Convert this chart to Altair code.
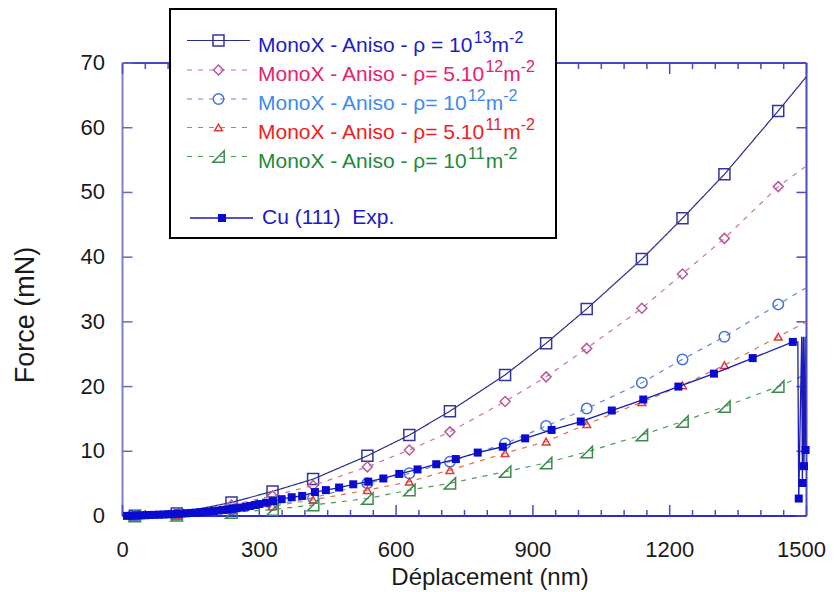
import altair as alt
import pandas as pd

# ---------------- data ----------------
# simulation curves (MonoX - Aniso), markers at all x except the first and last
x_sim = [0, 27, 119, 239, 329, 418, 537, 629, 718, 839, 929, 1018, 1139, 1228, 1320, 1438, 1500]
f_1e13 = [0, 0.05, 0.4, 2.1, 3.8, 5.7, 9.3, 12.5, 16.2, 21.8, 26.7, 32.0, 39.7, 46.0, 52.8, 62.6, 67.9]
f_5e12 = [0, 0.04, 0.3, 1.7, 3.1, 4.7, 7.6, 10.2, 13.0, 17.7, 21.5, 25.9, 32.1, 37.4, 42.9, 50.9, 54.1]
f_1e12 = [0, 0.03, 0.25, 1.0, 1.7, 2.8, 5.05, 6.6, 8.4, 11.2, 13.9, 16.6, 20.6, 24.2, 27.7, 32.7, 35.3]
f_5e11 = [0, 0.02, 0.2, 0.9, 1.5, 2.5, 4.0, 5.3, 7.1, 9.7, 11.5, 14.2, 17.6, 20.2, 23.3, 27.7, 30.0]
f_1e11 = [0, 0.0, 0.1, 0.55, 1.0, 1.7, 2.7, 4.0, 5.05, 6.85, 8.2, 9.9, 12.5, 14.6, 16.9, 20.0, 21.9]

# experimental Cu (111) loading curve
x_exp = [0, 10, 20, 30, 40, 50, 60, 70, 80, 90, 100, 110, 120, 130, 140, 150, 160, 170, 180, 190,
         200, 210, 220, 230, 240, 250, 260, 270, 280, 290, 300, 315, 330, 349, 371, 394, 422, 446,
         475, 506, 539, 572, 607, 647, 688, 731, 779, 834, 883, 941, 1005, 1073, 1142, 1219, 1297,
         1382, 1470]
f_exp = [0, 0.02, 0.05, 0.08, 0.1, 0.12, 0.15, 0.18, 0.2, 0.23, 0.26, 0.3, 0.34, 0.38, 0.42, 0.47,
         0.52, 0.58, 0.64, 0.7, 0.77, 0.84, 0.92, 1.0, 1.1, 1.2, 1.3, 1.42, 1.55, 1.7, 1.85, 2.05,
         2.3, 2.6, 2.9, 3.1, 3.7, 4.0, 4.4, 4.9, 5.3, 5.8, 6.5, 7.2, 8.0, 8.8, 9.8, 10.7, 12.0, 13.3,
         14.6, 16.3, 18.0, 20.0, 22.0, 24.4, 26.9]
# unloading / reloading cycles at the end (line path), and the marked points among them
x_unload = [1481, 1483, 1489.5, 1491, 1493, 1494.5, 1496.7, 1498]
f_unload = [26.9, 2.7, 27.7, 5.1, 27.7, 7.7, 27.7, 10.2]
x_unload_mk = [1483, 1491, 1494.5, 1498]
f_unload_mk = [2.7, 5.1, 7.7, 10.2]

x_ticks = [0, 300, 600, 900, 1200, 1500]
y_ticks = [0, 10, 20, 30, 40, 50, 60, 70]
x_minor = [50, 100, 150, 200, 250, 350, 400, 450, 500, 550, 650, 700, 750, 800, 850, 950, 1000,
           1050, 1100, 1150, 1250, 1300, 1350, 1400, 1450]

x_title = "D\u00e9placement (nm)"
y_title = "Force (mN)"
sim_labels = [("MonoX - Aniso - \u03c1 = 10", "13"),
              ("MonoX - Aniso - \u03c1= 5.10", "12"),
              ("MonoX - Aniso - \u03c1= 10", "12"),
              ("MonoX - Aniso - \u03c1= 5.10", "11"),
              ("MonoX - Aniso - \u03c1= 10", "11")]
exp_label = "Cu (111) \u00a0Exp."

# ---------------- styling ----------------
W, H = 684, 453
FONT = "Liberation Sans"
FRAME = "#4a4ac4"
TXT = "#1a1a1a"
sim_series = [f_1e13, f_5e12, f_1e12, f_5e11, f_1e11]
mk_color = ["#34349e", "#b85a98", "#4472d6", "#e03a3a", "#3a8a4c"]
ln_color = ["#2c2c8c", "#cc70a8", "#6688d0", "#e0704a", "#4a9a5a"]
txt_color = ["#1c1cc8", "#e8206e", "#3d8af0", "#f02020", "#1e8a3a"]
shapes = ["square", "diamond", "circle", "triangle-up", "M -1 1 L 1 1 L 1 -1 Z"]
sizes = [121, 100, 110, 60, 130]
dashes = [[1, 0], [5, 6], [5, 6], [5, 6], [5, 6]]
EXP_COLOR = "#0a0ad0"

xs = alt.Scale(domain=[0, 1500], nice=False, zero=False)
ys = alt.Scale(domain=[0, 70], nice=False, zero=False)
one = pd.DataFrame({"a": [0]})

layers = []

# frame
frame_specs = [
    dict(x=0, x2=W, y=H, y2=H, c="#2a2ad0"),
    dict(x=0, x2=W, y=0, y2=0, c=FRAME),
    dict(x=0, x2=0, y=0, y2=H, c="#8080c8"),
    dict(x=W, x2=W, y=0, y2=H, c=FRAME),
]
for f in frame_specs:
    layers.append(alt.Chart(one).mark_rule(color=f["c"], strokeWidth=2).encode(
        x=alt.value(f["x"]), x2=alt.value(f["x2"]), y=alt.value(f["y"]), y2=alt.value(f["y2"])))

# ticks (inward, all four sides)
dfx_major = pd.DataFrame({"t": x_ticks})
dfx_minor = pd.DataFrame({"t": x_minor})
dfy = pd.DataFrame({"t": y_ticks})
for d, ln in [(dfx_major, 11), (dfx_minor, 6)]:
    layers.append(alt.Chart(d).mark_rule(color=FRAME, strokeWidth=1.5).encode(
        x=alt.X("t:Q", scale=xs, axis=None), y=alt.value(H), y2=alt.value(H - ln)))
    layers.append(alt.Chart(d).mark_rule(color=FRAME, strokeWidth=1.5).encode(
        x=alt.X("t:Q", scale=xs, axis=None), y=alt.value(0), y2=alt.value(ln)))
layers.append(alt.Chart(dfy).mark_rule(color="#6a6ab8", strokeWidth=1.5).encode(
    y=alt.Y("t:Q", scale=ys, axis=None), x=alt.value(0), x2=alt.value(10)))
layers.append(alt.Chart(dfy).mark_rule(color=FRAME, strokeWidth=1.5).encode(
    y=alt.Y("t:Q", scale=ys, axis=None), x=alt.value(W), x2=alt.value(W - 10)))

# tick labels (through the scales); the last x label sits slightly inside, as in the original
dfx_lab = pd.DataFrame({"t": x_ticks[:-1]})
dfx_last = pd.DataFrame({"t": x_ticks[-1:]})
for d, dx in [(dfx_lab, 0), (dfx_last, -5)]:
    layers.append(alt.Chart(d).mark_text(font=FONT, fontSize=22, color=TXT, align="center",
                                         baseline="middle", dx=dx).encode(
        x=alt.X("t:Q", scale=xs, axis=None), y=alt.value(H + 34), text=alt.Text("t:Q")))
layers.append(alt.Chart(dfy).mark_text(font=FONT, fontSize=22, color=TXT, align="right",
                                       baseline="middle").encode(
    y=alt.Y("t:Q", scale=ys, axis=None), x=alt.value(-17.5), text=alt.Text("t:Q")))
# axis titles
layers.append(alt.Chart(one).mark_text(font=FONT, fontSize=24, color=TXT, align="center",
                                       baseline="middle", text=x_title).encode(
    x=alt.value(367.5), y=alt.value(H + 62)))
layers.append(alt.Chart(one).mark_text(font=FONT, fontSize=27, color=TXT, align="center",
                                       baseline="middle", angle=270, text=y_title).encode(
    x=alt.value(-96.5), y=alt.value(252)))

# simulation curves
for k, fv in enumerate(sim_series):
    d = pd.DataFrame({"x": x_sim, "y": fv})
    layers.append(alt.Chart(d).mark_line(color=ln_color[k], strokeWidth=1.2,
                                         strokeDash=dashes[k]).encode(
        x=alt.X("x:Q", scale=xs, axis=None), y=alt.Y("y:Q", scale=ys, axis=None)))
    dm = pd.DataFrame({"x": x_sim[1:-1], "y": fv[1:-1]})
    layers.append(alt.Chart(dm).mark_point(shape=shapes[k], size=sizes[k], filled=False,
                                           color=mk_color[k], strokeWidth=1.5, opacity=1).encode(
        x=alt.X("x:Q", scale=xs, axis=None), y=alt.Y("y:Q", scale=ys, axis=None)))

# experimental curve
de = pd.DataFrame({"x": x_exp + x_unload, "y": f_exp + f_unload})
de["i"] = range(len(de))
layers.append(alt.Chart(de).mark_line(color="#1a1ab4", strokeWidth=1.3).encode(
    x=alt.X("x:Q", scale=xs, axis=None), y=alt.Y("y:Q", scale=ys, axis=None),
    order=alt.Order("i:Q")))
dem = pd.DataFrame({"x": x_exp[1:] + x_unload_mk, "y": f_exp[1:] + f_unload_mk})
layers.append(alt.Chart(dem).mark_point(shape="square", size=64, filled=True, color=EXP_COLOR,
                                        opacity=1).encode(
    x=alt.X("x:Q", scale=xs, axis=None), y=alt.Y("y:Q", scale=ys, axis=None)))

# ---------------- legend box (drawn in pixel space, above the plot) ----------------
OX, OY = 122.5, 63.0  # page origin of plot area
layers.append(alt.Chart(one).mark_rect(fill="white", stroke="black", strokeWidth=2).encode(
    x=alt.value(170 - OX), x2=alt.value(556 - OX), y=alt.value(9 - OY), y2=alt.value(238 - OY)))

AW = {'M': 833, 'o': 556, 'n': 556, 'X': 667, ' ': 278, '-': 333, 'A': 667, 'i': 222, 's': 500,
      '\u03c1': 577, '=': 584, '1': 556, '0': 556, '5': 556, '.': 278, 'm': 833, '2': 556, '3': 556}


def tw(s, size):
    return sum(AW.get(c, 556) for c in s) * size / 1000.0


baselines = [51.5, 81, 110, 138.5, 167.5, 224]
FS, SS = 21, 16
segs = []
for k, (main, expo) in enumerate(sim_labels):
    bx = 258 - OX
    by = baselines[k] - OY
    x = bx
    for txt, sz, dy in [(main, FS, 0), (expo, SS, -9), ("m", FS, 0), ("-2", SS, -9)]:
        segs.append({"t": txt, "x": x, "y": by + dy, "s": sz, "c": txt_color[k]})
        x += tw(txt, sz)
segs.append({"t": exp_label, "x": 262 - OX, "y": baselines[5] - OY, "s": FS, "c": "#1a1acc"})
for s in segs:
    layers.append(alt.Chart(one).mark_text(align="left", baseline="alphabetic", font=FONT,
                                           fontSize=s["s"], color=s["c"], text=s["t"]).encode(
        x=alt.value(s["x"]), y=alt.value(s["y"])))

for k in range(5):
    cy = baselines[k] - 11 - OY
    layers.append(alt.Chart(one).mark_rule(color=ln_color[k], strokeWidth=1.2,
                                           strokeDash=dashes[k]).encode(
        x=alt.value(187 - OX), x2=alt.value(250 - OX), y=alt.value(cy)))
    layers.append(alt.Chart(one).mark_point(shape=shapes[k], size=sizes[k], filled=False,
                                            color=mk_color[k], strokeWidth=1.5, opacity=1).encode(
        x=alt.value(218.5 - OX), y=alt.value(cy)))
cy6 = 218 - OY
layers.append(alt.Chart(one).mark_rule(color="#1a1ab4", strokeWidth=1.3).encode(
    x=alt.value(190 - OX), x2=alt.value(253 - OX), y=alt.value(cy6)))
layers.append(alt.Chart(one).mark_point(shape="square", size=64, filled=True, color=EXP_COLOR,
                                        opacity=1).encode(
    x=alt.value(222 - OX), y=alt.value(cy6)))

chart = alt.layer(*layers).properties(
    width=W, height=H,
    autosize=alt.AutoSizeParams(type="none"),
    padding={"left": OX - 8, "top": OY - 8, "right": 19, "bottom": 74},
    background="white",
).configure_view(stroke=None)

chart.save("out.html", embed_options={"renderer": "svg", "actions": False})
